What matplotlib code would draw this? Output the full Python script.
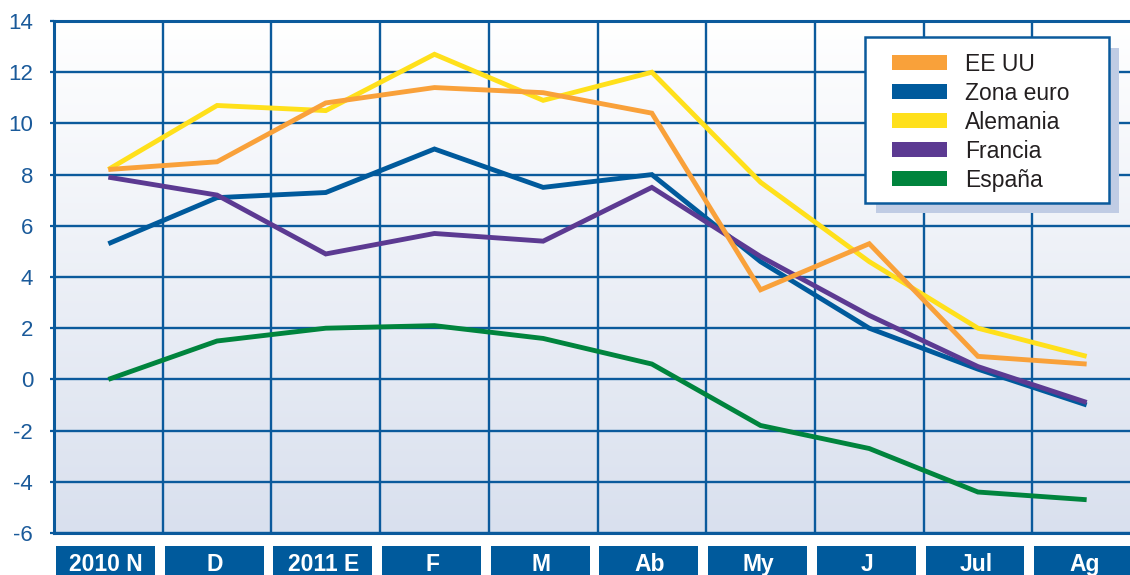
import matplotlib
matplotlib.use("Agg")
import matplotlib.pyplot as plt
import numpy as np
from matplotlib.colors import LinearSegmentedColormap
from matplotlib.patches import Rectangle

plt.rcParams["font.family"] = ["Liberation Sans", "DejaVu Sans"]
plt.rcParams["axes.unicode_minus"] = False

meses = ["2010 N", "D", "2011 E", "F", "M", "Ab", "My", "J", "Jul", "Ag"]

ee_uu = [8.2, 8.5, 10.8, 11.4, 11.2, 10.4, 3.5, 5.3, 0.9, 0.6]
zona_euro = [5.3, 7.1, 7.3, 9.0, 7.5, 8.0, 4.6, 2.0, 0.4, -1.0]
alemania = [8.2, 10.7, 10.5, 12.7, 10.9, 12.0, 7.7, 4.6, 2.0, 0.9]
francia = [7.9, 7.2, 4.9, 5.7, 5.4, 7.5, 4.8, 2.5, 0.5, -0.9]
espana = [0.0, 1.5, 2.0, 2.1, 1.6, 0.6, -1.8, -2.7, -4.4, -4.7]

series = ["EE UU", "Zona euro", "Alemania", "Francia", "España"]
valores = [ee_uu, zona_euro, alemania, francia, espana]
colores = ["#f9a13a", "#005a9c", "#ffe01b", "#5c3a92", "#00843d"]
orden = [6, 4, 3, 5, 2]  # zorder de cada linea

azul = "#0b5a9c"
W, H = 1130, 575

fig = plt.figure(figsize=(W / 100, H / 100), dpi=100)
ax = fig.add_axes([54 / W, (H - 533) / H, 1087 / W, 512 / H])

# fondo degradado
fondo = LinearSegmentedColormap.from_list("fondo", ["#d9e0ee", "#ffffff"])
grad = np.linspace(0, 1, 256).reshape(-1, 1)
ax.imshow(grad, cmap=fondo, aspect="auto", extent=(0, 10, -6, 14),
          origin="lower", zorder=0)

x = np.arange(len(meses)) + 0.5
for nombre, v, c, z in zip(series, valores, colores, orden):
    ax.plot(x, v, color=c, lw=3.5, solid_joinstyle="miter",
            solid_capstyle="butt", zorder=z, label=nombre)

ax.set_xlim(0, 10)
ax.set_ylim(-6, 14)
ax.set_yticks(range(-6, 15, 2))
ax.set_xticks(range(0, 11))
ax.set_xticklabels([])
ax.tick_params(axis="x", length=0)
ax.tick_params(axis="y", length=3, width=1.6, color=azul, pad=12,
               labelsize=16, labelcolor="#1a5a9a")
ax.grid(True, color=azul, lw=1.7)
ax.set_axisbelow(True)
for lado in ["top", "left", "bottom"]:
    ax.spines[lado].set_color(azul)
    ax.spines[lado].set_linewidth(2.2)
ax.spines["right"].set_visible(False)

# etiquetas del eje x en cajas
for i, m in enumerate(meses):
    ax.add_patch(Rectangle((i + 0.018, -0.12), 0.91, 0.095, transform=ax.get_xaxis_transform(),
                           facecolor="#005a9c", edgecolor="none", clip_on=False))
    ax.text(i + 0.48, -0.074, m, transform=ax.get_xaxis_transform(), ha="center",
            va="baseline", color="white", fontsize=16.5, fontweight="bold")


# leyenda dibujada a mano
def px(xp, yp):
    return xp / W, 1 - yp / H


sx, sy = px(876, 213)
fig.patches.append(Rectangle((sx, sy), (1119 - 876) / W, (213 - 48) / H,
                             transform=fig.transFigure, facecolor="#c0cce4",
                             edgecolor="none", zorder=8))
fx, fy = px(865, 203)
fig.patches.append(Rectangle((fx, fy), (1109 - 865) / W, (203 - 37) / H,
                             transform=fig.transFigure, facecolor="white",
                             edgecolor=azul, lw=1.8, zorder=9))
for k, (nombre, c) in enumerate(zip(series, colores)):
    yc = 62 + 29 * k
    hx, hy = px(892, yc + 7.5)
    fig.patches.append(Rectangle((hx, hy), 55 / W, 15 / H, transform=fig.transFigure,
                                 facecolor=c, edgecolor="none", zorder=10))
    tx, ty = px(965, yc)
    fig.text(tx, ty, nombre, fontsize=16.5, color="#231f20", va="center_baseline",
             ha="left", zorder=11)

fig.savefig("out.png", dpi=100)
